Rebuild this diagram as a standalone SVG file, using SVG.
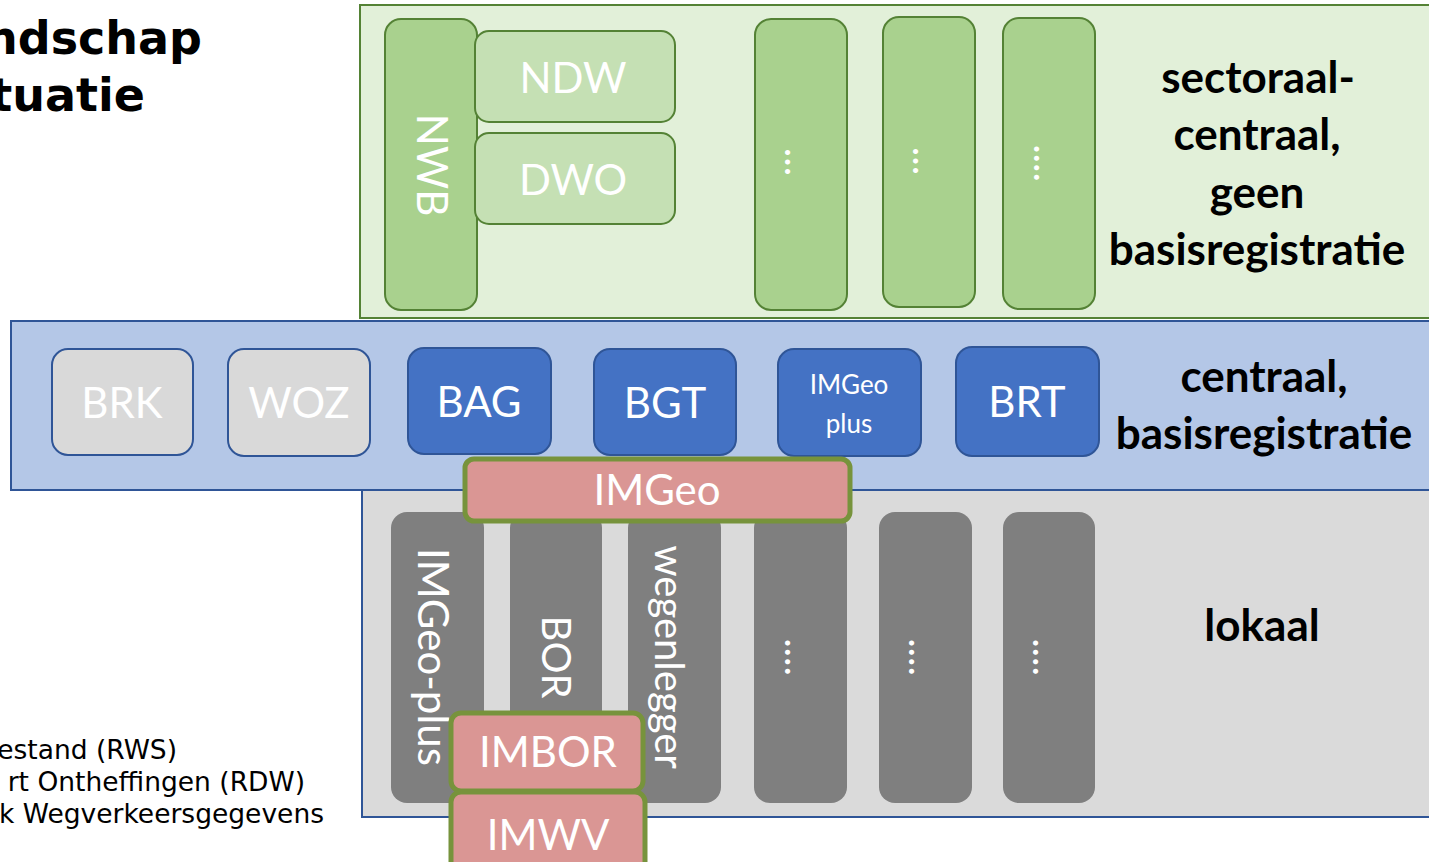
<svg xmlns="http://www.w3.org/2000/svg" width="1429" height="862" viewBox="0 0 1429 862">
<style>
.lbl{font-family:Lato,"Open Sans","Liberation Sans",sans-serif;fill:#fff;text-anchor:middle}
.big{font-family:Lato,"Open Sans","Liberation Sans",sans-serif;font-weight:bold;fill:#000;text-anchor:middle;font-size:44px}
.title{font-family:"DejaVu Sans",Verdana,sans-serif;font-weight:bold;fill:#000;text-anchor:end;font-size:46px}
.note{font-family:"DejaVu Sans",Verdana,sans-serif;fill:#000;text-anchor:end;font-size:26.5px}
.gcol{fill:#A9D18E;stroke:#548235;stroke-width:2}
.gsub{fill:#C5E0B4;stroke:#548235;stroke-width:2}
.bbox{fill:#4472C4;stroke:#2F5597;stroke-width:2}
.gbox{fill:#D9D9D9;stroke:#2F5597;stroke-width:2}
.dcol{fill:#7F7F7F}
.pink{fill:#DA9694;stroke:#77933C;stroke-width:5}
.dots{font-family:Lato,"Liberation Sans",sans-serif;fill:#fff;font-size:40px;text-anchor:middle}
</style>
<rect width="1429" height="862" fill="#fff"/>
<g id="title">
<text class="title" x="202" y="54">ndschap</text>
<text class="title" x="145" y="111">tuatie</text>
</g>
<g id="notes">
<text class="note" x="177" y="759">estand (RWS)</text>
<text class="note" x="305" y="791">rt Ontheffingen (RDW)</text>
<text class="note" x="324" y="823">k Wegverkeersgegevens</text>
</g>
<g id="layer-sectoraal">
<rect x="360" y="5" width="1080" height="313" fill="#E2F0D9" stroke="#548235" stroke-width="2"/>
<text class="big" x="1258" y="93">sectoraal-</text>
<text class="big" x="1257" y="150">centraal,</text>
<text class="big" x="1257" y="208">geen</text>
<text class="big" x="1257" y="265">basisregistratie</text>
</g>
<g id="layer-lokaal">
<rect x="362" y="490" width="1078" height="327" fill="#DADADA" stroke="#2F5597" stroke-width="2"/>
<text class="big" x="1262" y="641">lokaal</text>
</g>
<g id="layer-centraal">
<rect x="11" y="321" width="1429" height="169" fill="#B4C7E7" stroke="#2F5597" stroke-width="2"/>
<text class="big" x="1264" y="392">centraal,</text>
<text class="big" x="1264" y="449">basisregistratie</text>
</g>
<g id="NWB"><rect class="gcol" x="385" y="19" width="92" height="291" rx="16"/><text class="lbl" font-size="42" transform="translate(417,165) rotate(90)">NWB</text></g>
<g id="NDW"><rect class="gsub" x="475" y="31" width="200" height="91" rx="14"/><text class="lbl" font-size="42" x="573" y="93">NDW</text></g>
<g id="DWO"><rect class="gsub" x="475" y="133" width="200" height="91" rx="14"/><text class="lbl" font-size="42" x="573" y="195">DWO</text></g>
<g id="sector-1"><rect class="gcol" x="755" y="19" width="92" height="291" rx="16"/><text class="dots" transform="translate(785,162) rotate(90)">...</text></g>
<g id="sector-2"><rect class="gcol" x="883" y="17" width="92" height="290" rx="16"/><text class="dots" transform="translate(913,161) rotate(90)">...</text></g>
<g id="sector-3"><rect class="gcol" x="1003" y="18" width="92" height="291" rx="16"/><text class="dots" transform="translate(1034,163) rotate(90)">....</text></g>
<g id="BRK"><rect class="gbox" x="52" y="349" width="141" height="106" rx="16"/><text class="lbl" font-size="42" x="122" y="418">BRK</text></g>
<g id="WOZ"><rect class="gbox" x="228" y="349" width="142" height="107" rx="16"/><text class="lbl" font-size="42" x="299" y="418">WOZ</text></g>
<g id="BAG"><rect class="bbox" x="408" y="348" width="143" height="106" rx="16"/><text class="lbl" font-size="42" x="479" y="417">BAG</text></g>
<g id="BGT"><rect class="bbox" x="594" y="349" width="142" height="106" rx="16"/><text class="lbl" font-size="42" x="665" y="418">BGT</text></g>
<g id="IMGeo-plus-central"><rect class="bbox" x="778" y="349" width="143" height="107" rx="16"/><text class="lbl" font-size="26" x="849" y="394">IMGeo</text><text class="lbl" font-size="26" x="849" y="433">plus</text></g>
<g id="BRT"><rect class="bbox" x="956" y="347" width="143" height="109" rx="16"/><text class="lbl" font-size="42" x="1027" y="417">BRT</text></g>
<g id="IMGeo-plus"><rect class="dcol" x="391" y="512" width="93" height="291" rx="16"/><text class="lbl" font-size="42" transform="translate(418,657) rotate(90)">IMGeo-plus</text></g>
<g id="BOR"><rect class="dcol" x="510" y="512" width="92" height="291" rx="16"/><text class="lbl" font-size="40" transform="translate(542,657) rotate(90)">BOR</text></g>
<g id="wegenlegger"><rect class="dcol" x="628" y="512" width="93" height="291" rx="16"/><text class="lbl" font-size="40" transform="translate(655,657) rotate(90)">wegenlegger</text></g>
<g id="lokaal-1"><rect class="dcol" x="754" y="512" width="93" height="291" rx="16"/><text class="dots" transform="translate(785,657) rotate(90)">....</text></g>
<g id="lokaal-2"><rect class="dcol" x="879" y="512" width="93" height="291" rx="16"/><text class="dots" transform="translate(909,657) rotate(90)">....</text></g>
<g id="lokaal-3"><rect class="dcol" x="1003" y="512" width="92" height="291" rx="16"/><text class="dots" transform="translate(1033,657) rotate(90)">....</text></g>
<g id="IMGeo"><rect class="pink" x="465" y="459" width="385" height="62" rx="9"/><text class="lbl" font-size="42" x="657" y="505">IMGeo</text></g>
<g id="IMBOR"><rect class="pink" x="451" y="713" width="192" height="78" rx="10"/><text class="lbl" font-size="42" x="548" y="767">IMBOR</text></g>
<g id="IMWV"><rect class="pink" x="451" y="792" width="194" height="90" rx="10"/><text class="lbl" font-size="42" x="548" y="850">IMWV</text></g>
<g id="connectors"></g>
</svg>
